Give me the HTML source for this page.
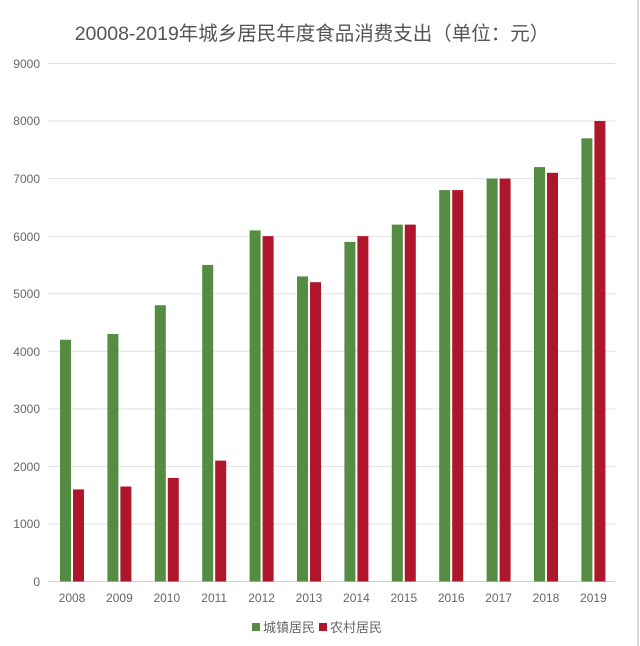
<!DOCTYPE html>
<html><head><meta charset="utf-8"><style>
html,body{margin:0;padding:0;background:#fff;}
svg{display:block;font-family:"Liberation Sans","Noto Sans CJK SC",sans-serif;}
</style></head><body>
<svg width="640" height="646" viewBox="0 0 640 646">
<rect width="640" height="646" fill="#fff"/>
<line x1="638" y1="0" x2="638" y2="646" stroke="#ccc" stroke-width="1.5"/>
<text x="312" y="40" font-size="19.5" fill="#555" text-anchor="middle">20008-2019年城乡居民年度食品消费支出（单位：元）</text>
<g stroke="#e0e0e0" stroke-width="1">
<line x1="48" x2="615" y1="63.5" y2="63.5"/>
<line x1="48" x2="615" y1="121" y2="121"/>
<line x1="48" x2="615" y1="178.6" y2="178.6"/>
<line x1="48" x2="615" y1="236.2" y2="236.2"/>
<line x1="48" x2="615" y1="293.7" y2="293.7"/>
<line x1="48" x2="615" y1="351.3" y2="351.3"/>
<line x1="48" x2="615" y1="408.9" y2="408.9"/>
<line x1="48" x2="615" y1="466.4" y2="466.4"/>
<line x1="48" x2="615" y1="524" y2="524"/>
</g>
<line x1="48" x2="615" y1="581.5" y2="581.5" stroke="#d0d0d0"/>
<g font-size="12" fill="#666" text-anchor="end">
<text x="40" y="68">9000</text><text x="40" y="125">8000</text><text x="40" y="183">7000</text>
<text x="40" y="241">6000</text><text x="40" y="298">5000</text><text x="40" y="356">4000</text>
<text x="40" y="413">3000</text><text x="40" y="471">2000</text><text x="40" y="528">1000</text>
<text x="40" y="586">0</text>
</g>
<g id="bars"></g>
<g font-size="12" fill="#666" text-anchor="middle" id="xl"></g>
<rect x="252" y="623" width="8" height="8" fill="#548c42"/>
<text x="263" y="632" font-size="13" fill="#666">城镇居民</text>
<rect x="319" y="623" width="8" height="8" fill="#b0162b"/>
<text x="330" y="632" font-size="13" fill="#666">农村居民</text>
<script>
var g=[4200,4300,4800,5500,6100,5300,5900,6200,6800,7000,7200,7700];
var r=[1600,1650,1800,2100,6000,5200,6000,6200,6800,7000,7100,8000];
var ns="http://www.w3.org/2000/svg",b=document.getElementById("bars"),xl=document.getElementById("xl");
function rect(x,v,c){var e=document.createElementNS(ns,"rect");var h=v*0.05756;e.setAttribute("x",x);e.setAttribute("y",581.5-h);e.setAttribute("width",11);e.setAttribute("height",h);e.setAttribute("fill",c);b.appendChild(e);}
for(var i=0;i<12;i++){var c=72+i*47.4;rect(c-12,g[i],"#548c42");rect(c+1,r[i],"#b0162b");
var t=document.createElementNS(ns,"text");t.setAttribute("x",c);t.setAttribute("y",602);t.textContent=2008+i;xl.appendChild(t);}
</script>
</svg>
</body></html>
